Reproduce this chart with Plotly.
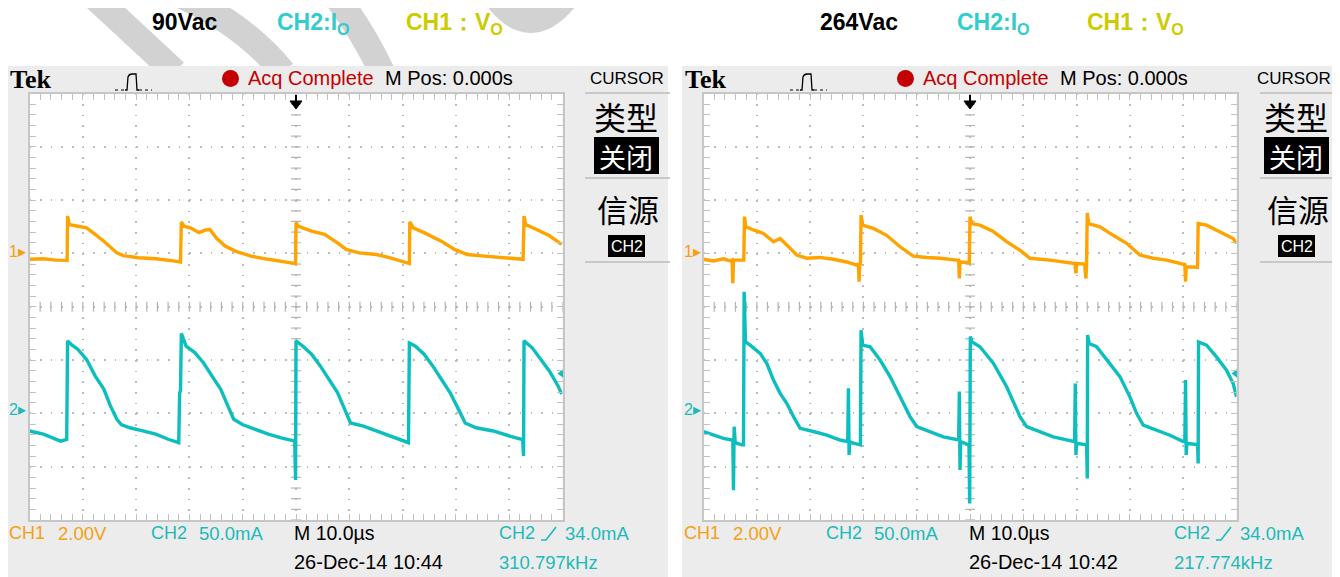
import numpy as np
import plotly.graph_objects as go

# page is shown with the browser's 8px body margin, so the figure is laid out 8px in;
# only about 1332px of the width is visible, so the figure stops there
OFF = 8
W, H = 1332 - OFF, 577 - OFF

# screen units: time in µs (10 µs/div, 10 div), vertical in divisions (-4 .. 4)
ch1_ground_div = 1.03
ch2_ground_div = -1.93
ch2_ma_per_div = 50.0
trigger_ma = 34.0

# 90Vac capture
ch1_90_t = [0, 2.6, 5.0, 6.9, 7.06, 7.14, 7.47, 9.09, 10.71, 11.53, 13.96, 16.40, 17.61, 20.45,
            23.70, 26.95, 28.17, 28.33, 28.49, 28.98, 30.19, 31.82, 33.04, 33.85, 35.06, 36.69,
            38.72, 41.56, 44.81, 48.05, 49.76, 49.92, 50.0, 50.49, 52.92, 55.36, 57.79, 59.42,
            61.85, 65.10, 67.53, 71.10, 71.27, 71.35, 72.00, 74.03, 77.27, 79.71, 82.14, 85.39,
            88.64, 92.45, 92.61, 92.78, 93.10, 95.13, 97.56, 99.84]
ch1_90_div = [0.89, 0.90, 0.875, 0.87, 0.87, 1.70, 1.54, 1.51, 1.48, 1.42, 1.23, 1.01, 0.96, 0.92,
              0.90, 0.86, 0.84, 0.84, 1.59, 1.51, 1.48, 1.39, 1.44, 1.45, 1.29, 1.14,
              1.04, 0.95, 0.89, 0.84, 0.81, 0.81, 1.575, 1.51, 1.42, 1.36, 1.20, 1.075,
              1.01, 0.98, 0.92, 0.81, 0.81, 1.59, 1.48, 1.39, 1.23, 1.075, 0.98, 0.95,
              0.92, 0.89, 0.89, 1.70, 1.54, 1.45, 1.33, 1.17]
ch2_90_t = [0, 2.6, 5.84, 6.82, 6.98, 7.14, 7.87, 9.09, 10.71, 12.34, 13.96, 15.18, 16.40, 17.21,
            18.83, 21.27, 23.70, 26.14, 28.00, 28.17, 28.33, 28.49, 29.38, 31.01, 32.63, 34.25,
            35.88, 37.09, 38.31, 39.94, 42.37, 44.81, 47.24, 49.76, 49.92, 50.0, 51.30, 52.92,
            54.55, 56.17, 57.79, 59.42, 60.23, 62.66, 65.10, 67.53, 71.10, 71.27, 72.40, 74.03,
            75.65, 77.27, 78.90, 80.52, 81.74, 83.77, 87.01, 90.26, 92.53, 92.69, 92.78, 94.32,
            95.94, 97.56, 99.19, 99.84]
ch2_90_div = [-2.33, -2.39, -2.52, -2.49, -2.49, -0.64, -0.71, -0.80, -0.99, -1.30, -1.55, -1.86, -2.11, -2.21,
              -2.27, -2.33, -2.39, -2.49, -2.55, -1.61, -1.58, -0.50, -0.74, -0.86, -1.05, -1.30,
              -1.55, -1.83, -2.11, -2.21, -2.30, -2.39, -2.46, -2.52, -3.25, -0.64, -0.74, -0.89,
              -1.11, -1.36, -1.61, -1.99, -2.18, -2.24, -2.33, -2.43, -2.55, -0.68, -0.74, -0.89,
              -1.11, -1.36, -1.61, -1.93, -2.18, -2.27, -2.33, -2.43, -2.49, -2.80, -0.64, -0.77,
              -0.99, -1.21, -1.49, -1.64]

# 264Vac capture
ch1_264_t = [0, 1.875, 3.75, 5.0, 5.375, 5.5, 5.625, 7.19, 7.56, 7.69, 7.94, 9.375, 11.25, 13.125,
             14.375, 15.625, 17.5, 19.375, 21.875, 24.375, 26.875, 28.75, 29.06, 29.19, 29.31, 29.44,
             29.56, 29.875, 31.875, 34.375, 36.875, 39.375, 41.875, 44.375, 47.5, 47.875, 48.0, 48.125,
             49.875, 50.0, 50.31, 51.875, 54.375, 56.875, 59.375, 61.25, 65.0, 68.125, 69.69, 69.875,
             70.0, 71.5, 71.75, 71.875, 72.0, 72.25, 74.375, 76.875, 79.375, 81.875, 84.375, 86.875,
             89.375, 90.31, 90.44, 90.56, 92.69, 92.81, 94.375, 96.875, 99.375, 100]
ch1_264_div = [0.89, 0.86, 0.90, 0.86, 0.875, 0.44, 0.875, 0.875, 0.875, 1.69, 1.50, 1.44, 1.375, 1.22,
               1.28, 1.16, 0.97, 0.91, 0.925, 0.89, 0.84, 0.78, 0.81, 0.47, 0.81, 0.78,
               1.72, 1.53, 1.47, 1.34, 1.125, 0.95, 0.925, 0.91, 0.875, 0.875, 0.53, 0.84,
               0.825, 1.69, 1.56, 1.53, 1.41, 1.22, 1.06, 0.91, 0.875, 0.84, 0.81, 0.625,
               0.81, 0.80, 0.53, 0.81, 1.76, 1.56, 1.50, 1.34, 1.19, 0.97, 0.91, 0.875,
               0.81, 0.79, 0.47, 0.75, 0.74, 1.56, 1.53, 1.41, 1.28, 1.19]
ch2_264_t = [0, 1.875, 3.75, 5.31, 5.5, 5.625, 5.75, 5.94, 6.25, 7.19, 7.5, 7.625, 7.875, 8.75,
             10.625, 11.875, 13.125, 14.375, 15.625, 16.875, 18.125, 20.625, 23.125, 25.625, 27.06, 27.19,
             27.31, 27.44, 28.125, 29.44, 29.56, 29.875, 31.25, 33.125, 35.0, 36.875, 38.75, 40.0,
             42.5, 45.0, 47.875, 48.0, 48.125, 48.25, 49.81, 49.94, 50.06, 50.375, 51.875, 54.375,
             56.875, 59.375, 60.625, 63.125, 65.625, 69.625, 69.75, 69.875, 70.0, 71.875, 72.0, 72.06,
             72.375, 73.75, 75.625, 78.125, 80.0, 81.25, 82.5, 85.0, 87.5, 90.0, 90.31, 90.44,
             90.56, 90.69, 92.69, 92.81, 92.875, 94.375, 96.25, 98.125, 99.375, 100]
ch2_264_div = [-2.34, -2.41, -2.47, -2.50, -2.50, -3.44, -2.25, -2.53, -2.56, -2.59, -2.59, 0.28, -0.66, -0.72,
               -0.875, -1.06, -1.375, -1.625, -1.81, -2.06, -2.28, -2.34, -2.41, -2.50, -2.53, -1.53,
               -2.78, -2.53, -2.56, -2.59, -0.44, -0.72, -0.75, -1.0, -1.31, -1.69, -2.06, -2.25,
               -2.34, -2.44, -2.50, -1.59, -3.06, -2.53, -2.59, -3.69, -0.56, -0.66, -0.75, -1.06,
               -1.50, -2.06, -2.25, -2.34, -2.44, -2.53, -1.44, -2.78, -2.56, -2.59, -3.22, -0.53,
               -0.69, -0.75, -1.0, -1.31, -1.69, -2.0, -2.22, -2.31, -2.41, -2.53, -2.53, -1.375,
               -2.78, -2.56, -2.59, -2.94, -0.66, -0.72, -0.94, -1.19, -1.44, -1.69]

ORANGE = '#ffa300'
CYAN = '#0cbebe'
TXT_ORANGE = '#f5a010'
TXT_CYAN = '#1cbaba'
RED = '#c40000'
SANS = 'Liberation Sans, Arial, sans-serif'
CJK = 'Noto Sans CJK SC, sans-serif'

panels = [
    dict(dx=0, menu_dx=0, cursor_x=588, bg=(7, 668), plot_x0=29.5, vac='90Vac', vac_x=150, io_x=275, vo_x=404,
         date='26-Dec-14 10:44', freq='310.797kHz',
         ch1=(ch1_90_t, ch1_90_div), ch2=(ch2_90_t, ch2_90_div), xa='x', ya='y'),
    dict(dx=675, menu_dx=-5, cursor_x=1255, bg=(682, 1345), plot_x0=703.5, vac='264Vac', vac_x=818, io_x=955,
         vo_x=1085, date='26-Dec-14 10:42', freq='217.774kHz',
         ch1=(ch1_264_t, ch1_264_div), ch2=(ch2_264_t, ch2_264_div), xa='x2', ya='y2'),
]
PLOT_W = 533.0
PLOT_TOP, PLOT_BOT = 93.5, 520.0

shapes = []
annotations = []


def fx(x):
    return (x - OFF) / W


def fy(y):
    return 1 - (y - OFF) / H


def rect(x0, y0, x1, y1, fill, layer='above'):
    shapes.append(dict(type='rect', xref='paper', yref='paper', x0=fx(x0), x1=fx(x1), y0=fy(y1), y1=fy(y0),
                       fillcolor=fill, line=dict(width=0), layer=layer))


def path(d, color, width=1, fill=None, layer='above', dash=None):
    # d: list of (cmd, x, y) in page pixels
    s = ''
    for item in d:
        if item[0] == 'Z':
            s += ' Z'
        elif item[0] == 'Q':
            s += ' Q %.5f,%.5f %.5f,%.5f' % (fx(item[1]), fy(item[2]), fx(item[3]), fy(item[4]))
        else:
            s += ' %s %.5f,%.5f' % (item[0], fx(item[1]), fy(item[2]))
    line = dict(color=color, width=width)
    if dash:
        line['dash'] = dash
    shp = dict(type='path', xref='paper', yref='paper', path=s.strip(), line=line, layer=layer)
    if fill:
        shp['fillcolor'] = fill
    shapes.append(shp)


def text(s, x, y, size, color='black', family=SANS, anchor='left', yref='paper'):
    annotations.append(dict(text=s, x=fx(x), y=fy(y) if yref == 'paper' else y, xref='paper', yref=yref,
                            xanchor=anchor, yanchor='middle', showarrow=False,
                            font=dict(size=size, color=color, family=family)))


# faint watermark strokes at the top left
for d in [[('M', 92, -5), ('Q', 130, 30, 175, 72)],
          [('M', 180, -5), ('Q', 245, 25, 283, 72)],
          [('M', 335, -5), ('Q', 362, 30, 382, 72)],
          [('M', 495, -5), ('Q', 530, 45, 568, -5)]]:
    path(d, '#d2d2d2', width=26, layer='below')

fig = go.Figure()

for p in panels:
    dx = p['dx']
    mx = dx + p['menu_dx']
    x0 = p['plot_x0']
    # scope body and graticule background
    rect(p['bg'][0], 66, p['bg'][1], 590, '#ececec', layer='below')
    rect(x0, PLOT_TOP, x0 + PLOT_W, PLOT_BOT, 'white', layer='below')

    # titles above the screenshot
    text('<b>%s</b>' % p['vac'], p['vac_x'], 22, 23, 'black')
    text('<b>CH2:I<sub>O</sub></b>', p['io_x'], 23, 23, '#33cccc')
    text('<b>CH1：V<sub>O</sub></b>', p['vo_x'], 23, 23, '#cccc00')

    # header row
    text('<b>Tek</b>', 8 + dx, 79, 26, 'black', 'Liberation Serif, Times New Roman, serif')
    path([('M', 115 + dx, 90), ('L', 125 + dx, 90)], 'black', 1.2, dash='dot')
    path([('M', 125 + dx, 90), ('L', 127 + dx, 90), ('L', 128 + dx, 77), ('Q', 129 + dx, 74, 132 + dx, 74),
          ('L', 136 + dx, 74), ('L', 137 + dx, 90), ('L', 139 + dx, 90)], 'black', 1.3)
    path([('M', 139 + dx, 90), ('L', 152 + dx, 90)], 'black', 1.2, dash='dot')
    shapes.append(dict(type='circle', xref='paper', yref='paper', x0=fx(222 + dx), x1=fx(239 + dx),
                       y0=fy(87), y1=fy(70), fillcolor=RED, line=dict(width=0)))
    text('Acq Complete', 246 + dx, 78, 20, RED)
    text('M Pos: 0.000s', 383 + dx, 78, 20, 'black')
    text('CURSOR', p['cursor_x'], 78, 17, 'black')

    # trigger position arrow
    cx = x0 + PLOT_W / 2
    path([('M', cx, 95), ('L', cx, 102)], 'black', 2)
    path([('M', cx - 6, 101), ('L', cx + 6, 101), ('L', cx, 109), ('Z',)], 'black', 1, fill='black')

    # side menu
    for yy in (93, 178, 262):
        path([('M', 585 + dx, yy), ('L', 670 + dx, yy)], '#c8c8c8', 2)
    text('类型', 626 + mx, 116, 32, 'black', CJK, anchor='center')
    rect(594 + mx, 137, 659 + mx, 174, 'black')
    text('关闭', 626 + mx, 156, 27, 'white', CJK, anchor='center')
    text('信源', 628 + mx, 208, 31, 'black', CJK, anchor='center')
    rect(608 + mx, 235, 645 + mx, 257, 'black')
    text('CH2', 626.5 + mx, 246, 16, 'white', anchor='center')

    # bottom readout
    text('CH1', 7 + dx, 533, 18, TXT_ORANGE)
    text('2.00V', 56 + dx, 533, 18.5, TXT_ORANGE)
    text('CH2', 149 + dx, 533, 18, TXT_CYAN)
    text('50.0mA', 197 + dx, 533, 18.5, TXT_CYAN)
    text('M 10.0µs', 292 + dx, 533, 19.5, 'black')
    text('CH2', 497 + dx, 533, 18, TXT_CYAN)
    path([('M', 541 + dx, 540), ('L', 546 + dx, 540), ('L', 556 + dx, 527)], TXT_CYAN, 1.6)
    text('%.1fmA' % trigger_ma, 563 + dx, 533, 18.5, TXT_CYAN)
    text(p['date'], 292 + dx, 562, 20, 'black')
    text(p['freq'], 497 + dx, 562, 18.5, TXT_CYAN)

    # ground markers
    text('1▸', 7 + dx, ch1_ground_div, 16, TXT_ORANGE, yref=p['ya'])
    text('2▸', 7 + dx, ch2_ground_div, 16, TXT_CYAN, yref=p['ya'])

    # graticule centre tick marks
    fig.add_trace(go.Scatter(x=np.arange(0, 100.1, 2), y=np.zeros(51), mode='markers',
                             marker=dict(symbol='line-ns', size=7, line=dict(color='#b4b4b4', width=1.2)),
                             xaxis=p['xa'], yaxis=p['ya'], hoverinfo='skip'))
    fig.add_trace(go.Scatter(x=np.full(41, 50.0), y=np.arange(-4, 4.01, 0.2), mode='markers',
                             marker=dict(symbol='line-ew', size=7, line=dict(color='#b4b4b4', width=1.2)),
                             xaxis=p['xa'], yaxis=p['ya'], hoverinfo='skip'))

    # waveforms
    fig.add_trace(go.Scatter(x=p['ch1'][0], y=p['ch1'][1], mode='lines',
                             line=dict(color=ORANGE, width=3.4), xaxis=p['xa'], yaxis=p['ya']))
    fig.add_trace(go.Scatter(x=p['ch2'][0], y=p['ch2'][1], mode='lines',
                             line=dict(color=CYAN, width=3.4), xaxis=p['xa'], yaxis=p['ya']))
    # trigger level marker on the right edge
    fig.add_trace(go.Scatter(x=[100], y=[ch2_ground_div + trigger_ma / ch2_ma_per_div], mode='markers',
                             marker=dict(symbol='triangle-left', size=10, color=CYAN),
                             cliponaxis=False, xaxis=p['xa'], yaxis=p['ya']))


def scope_axis(domain, rng, dtick, minor, anchor):
    return dict(domain=domain, range=rng, dtick=dtick, tick0=rng[0], anchor=anchor,
                showgrid=True, gridcolor='#bcbcbc', gridwidth=1.6, griddash='1.6px,9.06px',
                showline=True, linecolor='#c6c6c6', linewidth=2,
                mirror='ticks', ticks='inside', ticklen=6, tickcolor='#c2c2c2', tickwidth=1,
                minor=dict(dtick=minor, ticks='inside', ticklen=6, tickcolor='#c2c2c2', tickwidth=1, showgrid=False),
                showticklabels=False, zeroline=False, fixedrange=True)


ydom = [fy(PLOT_BOT), fy(PLOT_TOP)]
fig.update_layout(
    width=W, height=H, margin=dict(l=0, r=0, t=0, b=0),
    paper_bgcolor='white', plot_bgcolor='white', showlegend=False,
    xaxis=scope_axis([fx(panels[0]['plot_x0']), fx(panels[0]['plot_x0'] + PLOT_W)], [0, 100], 10, 2, 'y'),
    yaxis=scope_axis(ydom, [-4, 4], 1, 0.2, 'x'),
    xaxis2=scope_axis([fx(panels[1]['plot_x0']), fx(panels[1]['plot_x0'] + PLOT_W)], [0, 100], 10, 2, 'y2'),
    yaxis2=scope_axis(ydom, [-4, 4], 1, 0.2, 'x2'),
    shapes=shapes, annotations=annotations,
)

fig.write_html("out.html")
